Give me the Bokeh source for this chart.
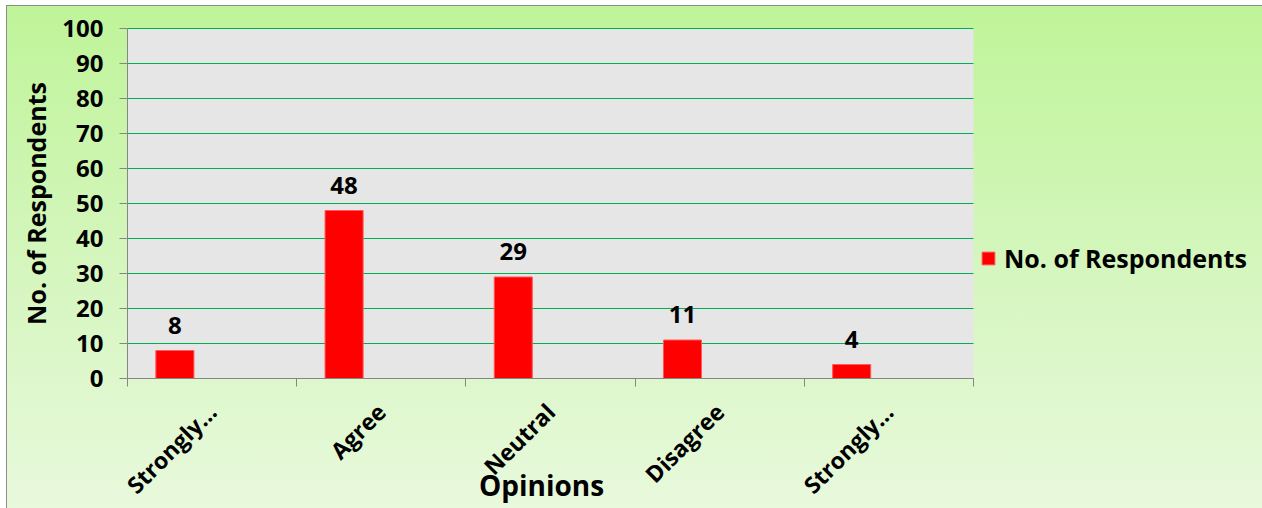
import math

from bokeh.core.properties import value
from bokeh.embed import file_html
from bokeh.models import (BoxAnnotation, ColumnDataSource, FixedTicker, Label,
                          LabelSet, Legend, LegendItem, Range1d)
from bokeh.plotting import figure
from bokeh.resources import INLINE

# Survey results: number of respondents per opinion
categories = ["Strongly Agree", "Agree", "Neutral", "Disagree", "Strongly Disagree"]
tick_labels = ["Strongly…", "Agree", "Neutral", "Disagree", "Strongly…"]
respondents = [8, 48, 29, 11, 4]
y_ticks = list(range(0, 101, 10))
y_max = 100

FONT = "Open Sans"
GRID_GREEN = "#00b050"
AXIS_GREY = "#868686"

# Layout: the frame fills the whole chart so that axes, titles and legend
# all sit inside it; the grey plot area is PLOT_W x PLOT_H pixels, offset
# PLOT_LEFT / PLOT_TOP pixels from the frame's top-left corner.
FIG_W, FIG_H = 1255, 502
PLOT_LEFT, PLOT_TOP = 120, 22
PLOT_W, PLOT_H = 846, 350
n_cat = len(categories)
x_per_px = n_cat / PLOT_W
y_per_px = y_max / PLOT_H
x_start = -PLOT_LEFT * x_per_px
x_end = (FIG_W - PLOT_LEFT) * x_per_px
y_end = y_max + PLOT_TOP * y_per_px
y_start = y_max - (FIG_H - PLOT_TOP) * y_per_px

idx = list(range(n_cat))
source = ColumnDataSource(dict(
    cat=categories,
    x=[i + 0.28 for i in idx],          # bar sits in the left part of each slot
    n=respondents,
    lbl=[str(v) for v in respondents],
))

p = figure(
    width=FIG_W, height=FIG_H,
    output_backend="svg", toolbar_location=None,
    x_range=Range1d(x_start, x_end), y_range=Range1d(y_start, y_end),
    min_border_left=0, min_border_right=0,
    min_border_top=0, min_border_bottom=0,
)
p.margin = (6, 0, 0, 7)
p.border_fill_color = None
p.background_fill_color = None
p.outline_line_color = None
p.styles = {
    "background-image": "linear-gradient(to bottom, #bff499 0%, #d6f6c0 55%, #e8f9dc 100%)",
    "outline": "1px solid #8c8c8c",
}

# grey plot area behind the category slots
plot_area = BoxAnnotation(left=0, right=n_cat, bottom=0, top=y_max,
                          fill_color="#e6e6e6", fill_alpha=1,
                          line_color=None, level="image")
p.add_layout(plot_area)

# horizontal gridlines across the category slots
grid = p.segment(x0=[0] * len(y_ticks), x1=[n_cat] * len(y_ticks),
                 y0=y_ticks, y1=y_ticks, line_color=GRID_GREEN, line_width=1.2)
grid.level = "underlay"

bars = p.vbar(x="x", top="n", bottom=0, width=0.225, source=source,
              fill_color="#ff0000", line_color="#ff5a5a", line_width=1)

labels = LabelSet(x="x", y="n", text="lbl", source=source, y_offset=17,
                  text_align="center", text_baseline="bottom",
                  text_font=value(FONT), text_font_style="bold",
                  text_font_size="24px", text_color="black")
p.add_layout(labels)

p.xgrid.grid_line_color = None
p.ygrid.grid_line_color = None

# y axis at x = 0
p.yaxis.fixed_location = 0
p.yaxis.bounds = (0, y_max)
p.yaxis.ticker = FixedTicker(ticks=y_ticks)
p.yaxis.axis_line_color = AXIS_GREY
p.yaxis.major_tick_line_color = AXIS_GREY
p.yaxis.major_tick_out = 8
p.yaxis.major_tick_in = 0
p.yaxis.minor_tick_line_color = None
p.yaxis.major_label_text_font = FONT
p.yaxis.major_label_text_font_style = "bold"
p.yaxis.major_label_text_font_size = "24px"
p.yaxis.major_label_text_color = "black"
p.yaxis.major_label_standoff = 16

# x axis at y = 0: labels at slot centres, tick marks at slot boundaries
centres = [i + 0.5 for i in idx]
p.xaxis.fixed_location = 0
p.xaxis.bounds = (0, n_cat)
p.xaxis.ticker = FixedTicker(ticks=centres, minor_ticks=list(range(n_cat + 1)))
p.xaxis.major_label_overrides = {c: t for c, t in zip(centres, tick_labels)}
p.xaxis.axis_line_color = AXIS_GREY
p.xaxis.major_tick_line_color = None
p.xaxis.major_tick_out = 0
p.xaxis.major_tick_in = 0
p.xaxis.minor_tick_line_color = AXIS_GREY
p.xaxis.minor_tick_out = 8
p.xaxis.minor_tick_in = 0
p.xaxis.major_label_orientation = math.pi / 4
p.xaxis.major_label_text_font = FONT
p.xaxis.major_label_text_font_style = "bold"
p.xaxis.major_label_text_font_size = "23px"
p.xaxis.major_label_text_color = "black"
p.xaxis.major_label_standoff = 21

# axis titles
y_title = Label(x=0, y=y_max / 2, text="No. of Respondents", x_offset=-92,
                angle=math.pi / 2, text_align="center", text_baseline="middle",
                text_font=FONT, text_font_style="bold",
                text_font_size="25px", text_color="black")
p.add_layout(y_title)

x_title = Label(x=n_cat / 2, y=0, text="Opinions", x_offset=-9, y_offset=-106,
                text_align="center", text_baseline="alphabetic",
                text_font=FONT, text_font_style="bold",
                text_font_size="28px", text_color="black")
p.add_layout(x_title)

legend = Legend(
    items=[LegendItem(label="No. of Respondents", renderers=[bars])],
    location=(PLOT_LEFT + PLOT_W + 7, FIG_H - PLOT_TOP - PLOT_H + 103),
    glyph_width=16, glyph_height=16,
    label_text_font=FONT, label_text_font_style="bold",
    label_text_font_size="25px", label_text_color="black",
    background_fill_alpha=0, border_line_color=None,
    padding=0, margin=0, spacing=0, label_standoff=8,
)
p.add_layout(legend)

open("out.html", "w").write(file_html(p, INLINE))
